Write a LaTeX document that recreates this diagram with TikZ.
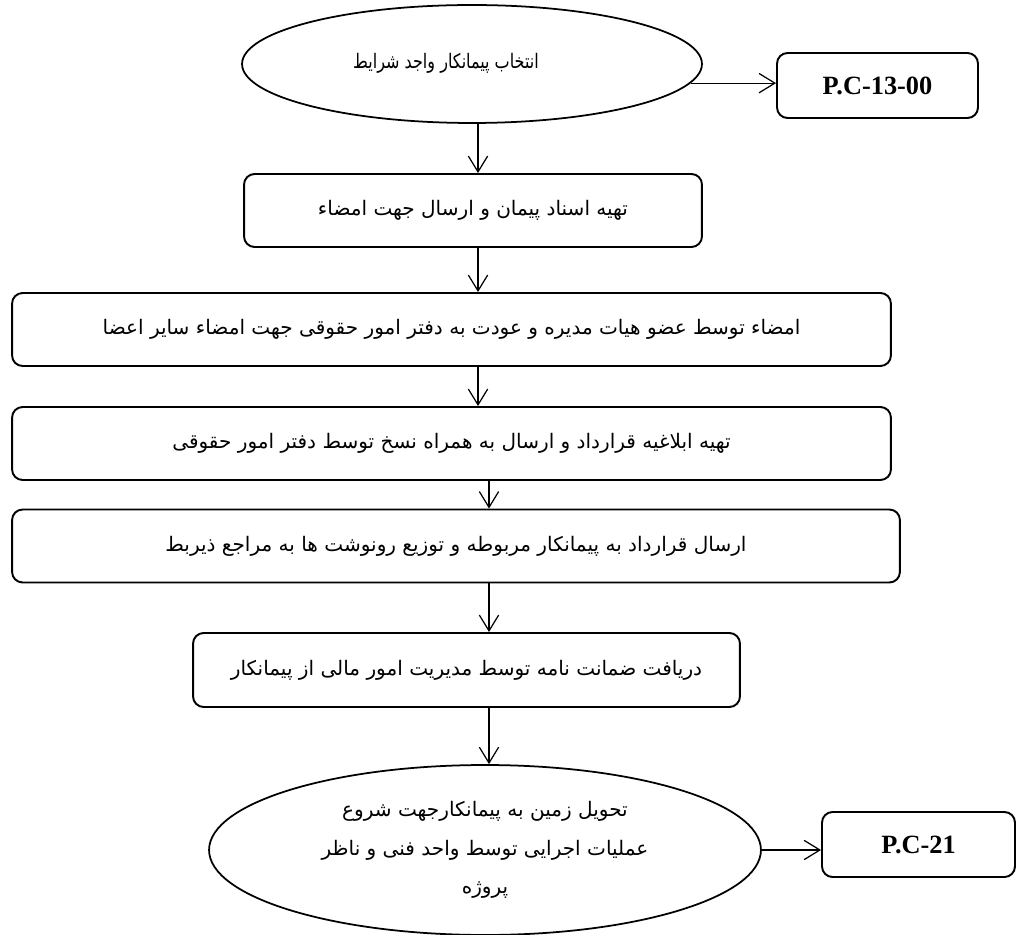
\documentclass[tikz,border=0pt]{standalone}
\usepackage{fontspec}
\usetikzlibrary{shapes.geometric,arrows.meta}
\TeXXeTstate=1
\newfontfamily\fa[Script=Arabic]{DejaVu Sans}
\newfontfamily\pcfont{Liberation Serif}
\newcommand{\fatxt}[1]{\beginR #1\endR}

\begin{document}
\begin{tikzpicture}[x=0.02cm, y=-0.02cm,
  box/.style={draw, line width=1.1pt, rounded corners=6pt, inner sep=0pt, font=\fa\fontsize{11.4}{22}\selectfont},
  oval/.style={draw, ellipse, line width=1pt, inner sep=0pt, align=center, font=\fa\fontsize{11.4}{22}\selectfont},
  pcbox/.style={box, font=\pcfont\bfseries\fontsize{15}{18}\selectfont},
  arr/.style={-{Straight Barb[length=9pt,width=11pt]}, line width=0.7pt}]
\useasboundingbox (0,0) rectangle (1017,935);

% columns of the down arrows
\coordinate (colA) at (478,0);
\coordinate (colB) at (489,0);

\node[oval, minimum width=9.2cm, minimum height=2.36cm] (e1) at (472,64)
  {\raisebox{0.12cm}{\scalebox{0.8}[1]{\fatxt{انتخاب پیمانکار واجد شرایط}}}\hspace{1.04cm}};
\node[pcbox, minimum width=4.02cm, minimum height=1.3cm] (pc1) at (877.5,85.5) {P.C-13-00};

\node[box, minimum width=9.16cm, minimum height=1.46cm] (b2) at (473,210.5)
  {\fatxt{تهیه اسناد پیمان و ارسال جهت امضاء}};
\node[box, minimum width=17.58cm, minimum height=1.46cm] (b3) at (451.5,329.5)
  {\fatxt{امضاء توسط عضو هیات مدیره و عودت به دفتر امور حقوقی جهت امضاء سایر اعضا}};
\node[box, minimum width=17.58cm, minimum height=1.46cm] (b4) at (451.5,443.5)
  {\fatxt{تهیه ابلاغیه قرارداد و ارسال به همراه نسخ توسط دفتر امور حقوقی}};
\node[box, minimum width=17.76cm, minimum height=1.46cm] (b5) at (456,546)
  {\fatxt{ارسال قرارداد به پیمانکار مربوطه و توزیع رونوشت ها به مراجع ذیربط}};
\node[box, minimum width=10.94cm, minimum height=1.48cm] (b6) at (466.5,670)
  {\fatxt{دریافت ضمانت نامه توسط مدیریت امور مالی از پیمانکار}};

\node[oval, minimum width=11.04cm, minimum height=3.4cm] (e2) at (485,850)
  {\fatxt{تحویل زمین به پیمانکارجهت شروع}\\ \fatxt{عملیات اجرایی توسط واحد فنی و ناظر}\\ \fatxt{پروژه}};
\node[pcbox, minimum width=3.86cm, minimum height=1.3cm] (pc2) at (918.5,844.5) {P.C-21};

\draw[arr] (e1.-5) -- (e1.-5 -| pc1.west);
\draw[arr] (e1.south -| colA) -- (b2.north -| colA);
\draw[arr] (b2.south -| colA) -- (b3.north -| colA);
\draw[arr] (b3.south -| colA) -- (b4.north -| colA);
\draw[arr] (b4.south -| colB) -- (b5.north -| colB);
\draw[arr] (b5.south -| colB) -- (b6.north -| colB);
\draw[arr] (b6.south -| colB) -- (e2.north -| colB);
\draw[arr] (e2.east) -- (e2.east -| pc2.west);

\end{tikzpicture}
\end{document}
